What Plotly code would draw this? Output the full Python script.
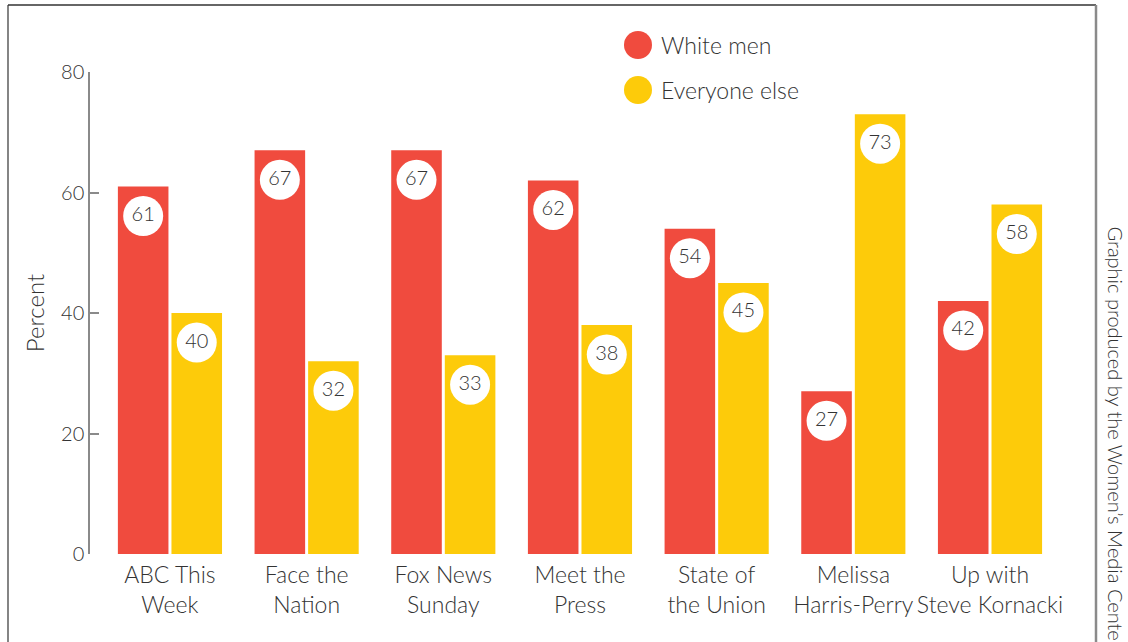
import plotly.graph_objects as go

categories = ["ABC This<br>Week", "Face the<br>Nation", "Fox News<br>Sunday", "Meet the<br>Press",
              "State of<br>the Union", "Melissa<br>Harris-Perry", "Up with<br>Steve Kornacki"]
white_men = [61, 67, 67, 62, 54, 27, 42]
everyone_else = [40, 32, 33, 38, 45, 73, 58]
series_names = ["White men", "Everyone else"]
y_ticks = [0, 20, 40, 60, 80]

RED = "#F04B3E"
YELLOW = "#FDCB0A"
TXT = "#333333"
FONT = "Lato"

idx = list(range(len(categories)))
OFF = 0.196
BW = 0.37
LABEL_DROP = 4.9

fig = go.Figure()
for vals, color, sign, name in [(white_men, RED, -1, series_names[0]), (everyone_else, YELLOW, 1, series_names[1])]:
    xs = [i + sign * OFF for i in idx]
    fig.add_trace(go.Bar(x=xs, y=vals, width=BW, marker=dict(color=color, line=dict(width=0)),
                         name=name, showlegend=False, hoverinfo="skip"))
    fig.add_trace(go.Scatter(x=xs, y=[v - LABEL_DROP for v in vals], mode="markers+text",
                             text=[str(v) for v in vals], textposition="middle center",
                             textfont=dict(family=FONT, size=20, color=TXT, weight=300),
                             marker=dict(size=40, color="white", line=dict(width=0)),
                             showlegend=False, hoverinfo="skip", cliponaxis=False))

fig.update_layout(
    width=1128, height=642,
    margin=dict(l=90, r=70, t=72, b=88),
    paper_bgcolor="white", plot_bgcolor="white",
    font=dict(family=FONT, color=TXT, weight=300),
    xaxis=dict(range=[-0.585, 6.4975], tickvals=idx, ticktext=categories, showgrid=False,
               zeroline=False, showline=False, ticks="", tickfont=dict(size=23, color=TXT, weight=300),
               ticklabelstandoff=5),
    yaxis=dict(range=[0, 80], tickvals=y_ticks, showgrid=False, zeroline=False, showline=True,
               linecolor="#8a8a8a", linewidth=1.5, ticks="inside", ticklen=9, tickcolor="#8a8a8a",
               tickwidth=1.5, tickfont=dict(size=20, color=TXT, weight=300),
               title=dict(text="Percent", font=dict(size=24, color=TXT, weight=300), standoff=10)),
)

# legend (manual)
legend_items = [(series_names[0], RED, 45), (series_names[1], YELLOW, 90)]
for name, color, ypx in legend_items:
    fig.add_shape(type="circle", xref="paper", yref="paper",
                  x0=(624 - 90) / 968, x1=(652 - 90) / 968,
                  y0=(554 - ypx - 14) / 482, y1=(554 - ypx + 14) / 482,
                  fillcolor=color, line=dict(width=0))
    fig.add_annotation(text=name, xref="paper", yref="paper", x=(659 - 90) / 968, y=(554 - ypx) / 482,
                       xanchor="left", yanchor="middle", showarrow=False,
                       font=dict(size=23, color=TXT, family=FONT, weight=300))

# frame
fig.add_shape(type="line", xref="paper", yref="paper", x0=(8 - 90) / 968, x1=(1096 - 90) / 968,
              y0=(554 - 5) / 482, y1=(554 - 5) / 482, line=dict(color="#333333", width=1.5))
fig.add_shape(type="line", xref="paper", yref="paper", x0=(8 - 90) / 968, x1=(8 - 90) / 968,
              y0=(554 - 5) / 482, y1=(554 - 645) / 482, line=dict(color="#333333", width=1.2))
fig.add_shape(type="line", xref="paper", yref="paper", x0=(1096 - 90) / 968, x1=(1096 - 90) / 968,
              y0=(554 - 5) / 482, y1=(554 - 645) / 482, line=dict(color="#8a8a8a", width=2.5))

# credit
fig.add_annotation(text="Graphic produced by the Women\u2019s Media Center", textangle=90,
                   xref="paper", yref="paper", x=(1116 - 90) / 968, y=(554 - 224) / 482,
                   xanchor="center", yanchor="top", showarrow=False,
                   font=dict(size=20, color=TXT, family=FONT, weight=300))

fig.write_html("out.html", config={"displayModeBar": False},
               post_script="document.body.style.margin='0';document.body.style.padding='0';")
